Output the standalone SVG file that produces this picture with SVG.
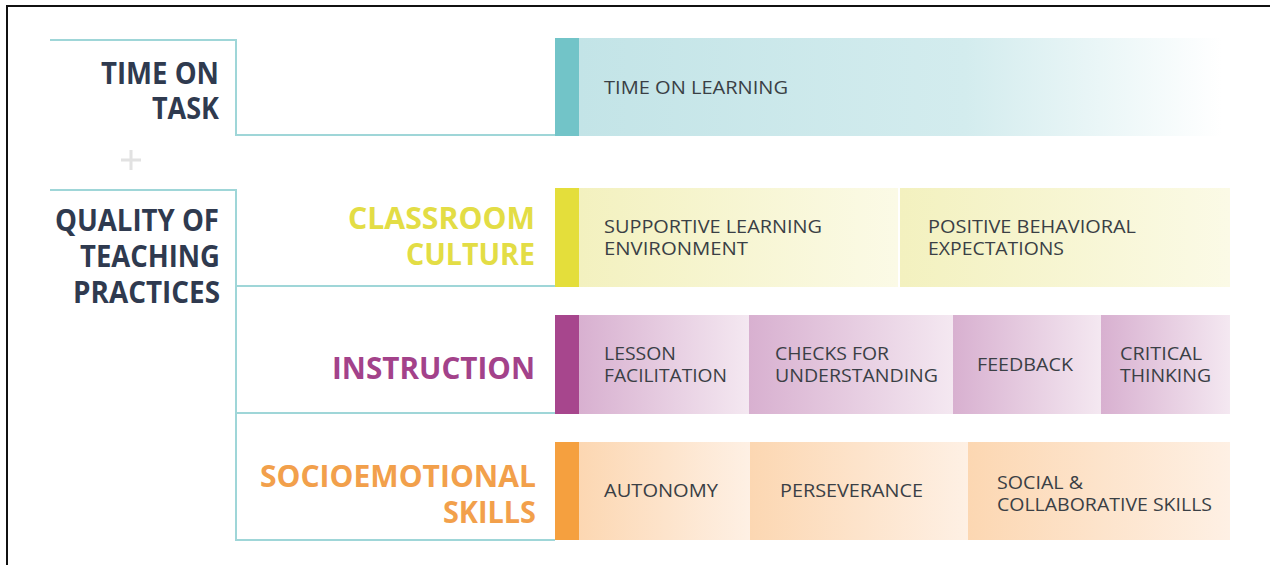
<svg xmlns="http://www.w3.org/2000/svg" width="1270" height="565" viewBox="0 0 1270 565">
<defs>
<linearGradient id="gTeal" x1="0" y1="0" x2="1" y2="0">
<stop offset="0" stop-color="#c3e4e7"/><stop offset="0.6" stop-color="#d3ecee"/><stop offset="1" stop-color="#ffffff"/>
</linearGradient>
<linearGradient id="gYel" x1="0" y1="0" x2="1" y2="0">
<stop offset="0" stop-color="#f3f1bf"/><stop offset="1" stop-color="#fbfae6"/>
</linearGradient>
<linearGradient id="gPur" x1="0" y1="0" x2="1" y2="0">
<stop offset="0" stop-color="#d8b0d0"/><stop offset="1" stop-color="#f4e8f1"/>
</linearGradient>
<linearGradient id="gOra" x1="0" y1="0" x2="1" y2="0">
<stop offset="0" stop-color="#fcd7b2"/><stop offset="1" stop-color="#fef0e4"/>
</linearGradient>
</defs>
<style>
.br{fill:none;stroke:#9fd6d8;stroke-width:2}
.main{font-family:"Open Sans","Liberation Sans",sans-serif;font-weight:700;font-size:30px;fill:#2f3a4f;text-anchor:end}
.cat{font-family:"Open Sans","Liberation Sans",sans-serif;font-weight:700;font-size:31px;text-anchor:end}
.cell{font-family:"Open Sans","Liberation Sans",sans-serif;font-size:18px;fill:#3a3f45}
</style>
<rect x="0" y="0" width="1270" height="565" fill="#ffffff"/>
<path d="M7 565 V6 H1270" fill="none" stroke="#111" stroke-width="2"/>

<g id="connectors">
<path class="br" d="M50 40 H236 V135 H555"/>
<path class="br" d="M50 190 H236 V540 H555 M236 286 H555 M236 413 H555"/>
<path d="M131 150 V170 M121 160 H141" stroke="#e2e2e2" stroke-width="3" fill="none"/>
</g>

<g id="time-on-task">
<text class="main" x="219" y="84" textLength="118" lengthAdjust="spacingAndGlyphs">TIME ON</text>
<text class="main" x="219" y="119" textLength="67" lengthAdjust="spacingAndGlyphs">TASK</text>
</g>
<g id="quality">
<text class="main" x="219" y="231" textLength="164" lengthAdjust="spacingAndGlyphs">QUALITY OF</text>
<text class="main" x="220" y="267" textLength="140" lengthAdjust="spacingAndGlyphs">TEACHING</text>
<text class="main" x="220" y="303" textLength="147" lengthAdjust="spacingAndGlyphs">PRACTICES</text>
</g>

<g id="row-time">
<rect x="579" y="38" width="643" height="98" fill="url(#gTeal)"/>
<rect x="555" y="38" width="24" height="98" fill="#72c4c8"/>
<text class="cell" x="604" y="94" textLength="184" lengthAdjust="spacingAndGlyphs">TIME ON LEARNING</text>
</g>

<g id="classroom-culture">
<text class="cat" x="535" y="229" fill="#e3dd45" textLength="187" lengthAdjust="spacingAndGlyphs">CLASSROOM</text>
<text class="cat" x="535" y="265" fill="#e3dd45" textLength="129" lengthAdjust="spacingAndGlyphs">CULTURE</text>
<rect x="555" y="188" width="24" height="99" fill="#e4de3b"/>
<rect x="579" y="188" width="319" height="99" fill="url(#gYel)"/>
<rect x="900" y="188" width="330" height="99" fill="url(#gYel)"/>
<text class="cell" x="604" y="233" textLength="218" lengthAdjust="spacingAndGlyphs">SUPPORTIVE LEARNING</text>
<text class="cell" x="604" y="255" textLength="144" lengthAdjust="spacingAndGlyphs">ENVIRONMENT</text>
<text class="cell" x="928" y="233" textLength="208" lengthAdjust="spacingAndGlyphs">POSITIVE BEHAVIORAL</text>
<text class="cell" x="928" y="255" textLength="136" lengthAdjust="spacingAndGlyphs">EXPECTATIONS</text>
</g>

<g id="instruction">
<text class="cat" x="535" y="379" fill="#a3428a" textLength="203" lengthAdjust="spacingAndGlyphs">INSTRUCTION</text>
<rect x="555" y="315" width="24" height="99" fill="#a7468d"/>
<rect x="579" y="315" width="170" height="99" fill="url(#gPur)"/>
<rect x="749" y="315" width="204" height="99" fill="url(#gPur)"/>
<rect x="953" y="315" width="148" height="99" fill="url(#gPur)"/>
<rect x="1101" y="315" width="129" height="99" fill="url(#gPur)"/>
<text class="cell" x="604" y="360" textLength="72" lengthAdjust="spacingAndGlyphs">LESSON</text>
<text class="cell" x="604" y="382" textLength="123" lengthAdjust="spacingAndGlyphs">FACILITATION</text>
<text class="cell" x="775" y="360" textLength="114" lengthAdjust="spacingAndGlyphs">CHECKS FOR</text>
<text class="cell" x="775" y="382" textLength="163" lengthAdjust="spacingAndGlyphs">UNDERSTANDING</text>
<text class="cell" x="977" y="371" textLength="96" lengthAdjust="spacingAndGlyphs">FEEDBACK</text>
<text class="cell" x="1120" y="360" textLength="82" lengthAdjust="spacingAndGlyphs">CRITICAL</text>
<text class="cell" x="1120" y="382" textLength="91" lengthAdjust="spacingAndGlyphs">THINKING</text>
</g>

<g id="socioemotional">
<text class="cat" x="536" y="487" fill="#f2a04b" textLength="276" lengthAdjust="spacingAndGlyphs">SOCIOEMOTIONAL</text>
<text class="cat" x="536" y="523" fill="#f2a04b" textLength="93" lengthAdjust="spacingAndGlyphs">SKILLS</text>
<rect x="555" y="442" width="24" height="98" fill="#f5a03f"/>
<rect x="579" y="442" width="171" height="98" fill="url(#gOra)"/>
<rect x="750" y="442" width="218" height="98" fill="url(#gOra)"/>
<rect x="968" y="442" width="262" height="98" fill="url(#gOra)"/>
<text class="cell" x="604" y="497" textLength="114" lengthAdjust="spacingAndGlyphs">AUTONOMY</text>
<text class="cell" x="780" y="497" textLength="143" lengthAdjust="spacingAndGlyphs">PERSEVERANCE</text>
<text class="cell" x="997" y="489" textLength="86" lengthAdjust="spacingAndGlyphs">SOCIAL &amp;</text>
<text class="cell" x="997" y="511" textLength="215" lengthAdjust="spacingAndGlyphs">COLLABORATIVE SKILLS</text>
</g>
</svg>
